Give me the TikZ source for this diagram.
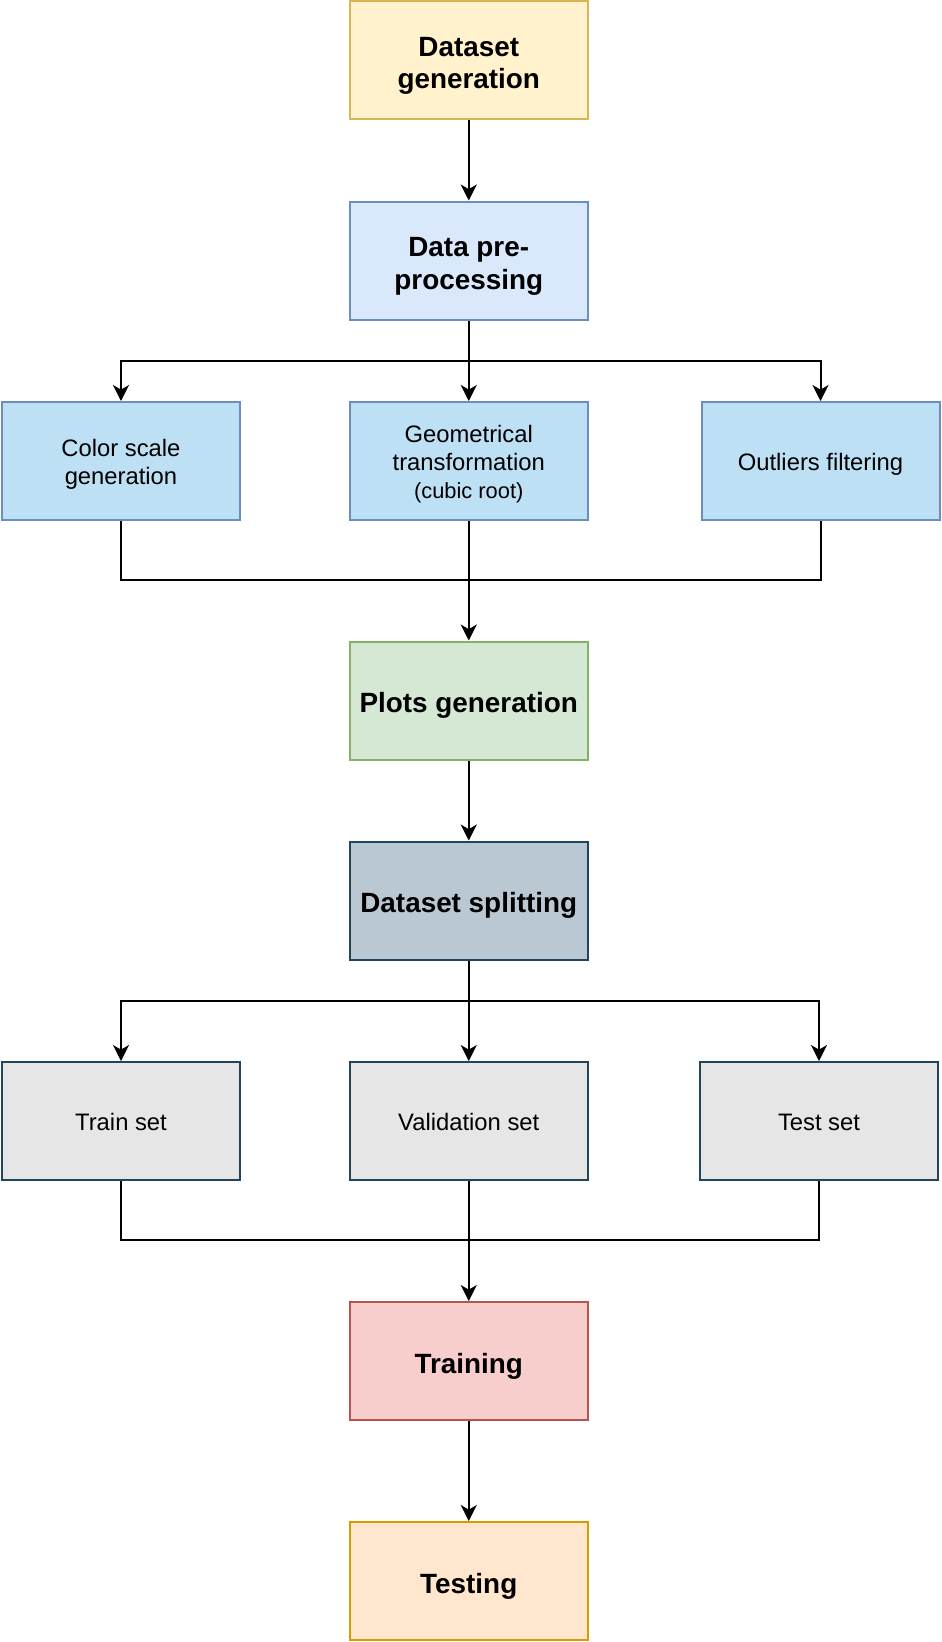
\documentclass[tikz,border=0pt]{standalone}
\usepackage{fontspec}
\setmainfont{Liberation Sans}
\usetikzlibrary{arrows.meta}
\definecolor{dgfill}{HTML}{FFF2CC}\definecolor{dgline}{HTML}{D6B656}
\definecolor{dpfill}{HTML}{DAE8FC}\definecolor{dpline}{HTML}{6C8EBF}
\definecolor{r1fill}{HTML}{BEE0F4}
\definecolor{pgfill}{HTML}{D5E8D4}\definecolor{pgline}{HTML}{82B366}
\definecolor{dsfill}{HTML}{BAC8D3}\definecolor{dsline}{HTML}{23445D}
\definecolor{r2fill}{HTML}{E6E6E6}
\definecolor{trfill}{HTML}{F8CECC}\definecolor{trline}{HTML}{B85450}
\definecolor{tsfill}{HTML}{FFE6CC}\definecolor{tsline}{HTML}{D79B00}
\newcommand{\normtxt}{\fontsize{17.85pt}{21.2pt}\selectfont}
\newcommand{\boldtxt}{\fontsize{20.9pt}{24.3pt}\selectfont\bfseries}
\newcommand{\smalltxt}{\fontsize{16.4pt}{19pt}\selectfont}
\newcommand{\bt}[1]{\raisebox{-3pt}[\height][\depth]{\begin{tabular}{@{}c@{}}#1\end{tabular}}}
\newcommand{\bbt}[1]{\raisebox{-4.4pt}[\height][\depth]{\begin{tabular}{@{}c@{}}#1\end{tabular}}}
\tikzset{
  boxnode/.style={draw, line width=1.5pt, rectangle, minimum width=178.5pt, minimum height=88.5pt, inner sep=0pt, align=center},
  boldbox/.style={boxnode, font=\boldtxt},
  normbox/.style={boxnode, font=\normtxt},
  conn/.style={line width=1.5pt, black},
  arr/.style={conn, -{Stealth[length=12pt, width=12pt, inset=3.5pt]}},
}
\begin{document}
\begin{tikzpicture}[x=0.75pt, y=-0.75pt]
\useasboundingbox (0,0) rectangle (942,1642);
\node[boldbox, fill=dgfill, draw=dgline] (dg) at (468.75,60) {\bbt{Dataset\\generation}};
\node[boldbox, fill=dpfill, draw=dpline] (dp) at (468.75,260.5) {\bbt{Data pre-\\processing}};
\node[normbox, fill=r1fill, draw=dpline] (cs) at (121,461) {\bt{Color scale\\generation}};
\node[normbox, fill=r1fill, draw=dpline] (gt) at (468.75,461) {\bt{Geometrical\\transformation\\{\smalltxt(cubic root)}}};
\node[normbox, fill=r1fill, draw=dpline] (of) at (820.5,461) {\bt{Outliers filtering}};
\node[boldbox, fill=pgfill, draw=pgline] (pg) at (468.75,700.5) {\bbt{Plots generation}};
\node[boldbox, fill=dsfill, draw=dsline] (ds) at (468.75,900.5) {\bbt{Dataset splitting}};
\node[normbox, fill=r2fill, draw=dsline] (tr) at (121,1121) {\bt{Train set}};
\node[normbox, fill=r2fill, draw=dsline] (va) at (468.75,1121) {\bt{Validation set}};
\node[normbox, fill=r2fill, draw=dsline] (te) at (819,1121) {\bt{Test set}};
\node[boldbox, fill=trfill, draw=trline] (trn) at (468.75,1361) {\bbt{Training}};
\node[boldbox, fill=tsfill, draw=tsline] (tst) at (468.75,1581) {\bbt{Testing}};
\coordinate (b1) at (468.75,361);
\coordinate (m1) at (468.75,580);
\coordinate (b2) at (468.75,1001);
\coordinate (m2) at (468.75,1240);
\draw[arr] (dg) -- (dp);
\draw[arr] (dp.south) -- (b1) -| (cs.north);
\draw[arr] (b1) -| (of.north);
\draw[arr] (b1) -- (gt.north);
\draw[conn] (cs.south) |- (m1);
\draw[conn] (of.south) |- (m1);
\draw[arr] (gt.south) -- (pg.north);
\draw[arr] (pg) -- (ds);
\draw[arr] (ds.south) -- (b2) -| (tr.north);
\draw[arr] (b2) -| (te.north);
\draw[arr] (b2) -- (va.north);
\draw[conn] (tr.south) |- (m2);
\draw[conn] (te.south) |- (m2);
\draw[arr] (va.south) -- (trn.north);
\draw[arr] (trn) -- (tst);
\end{tikzpicture}
\end{document}
